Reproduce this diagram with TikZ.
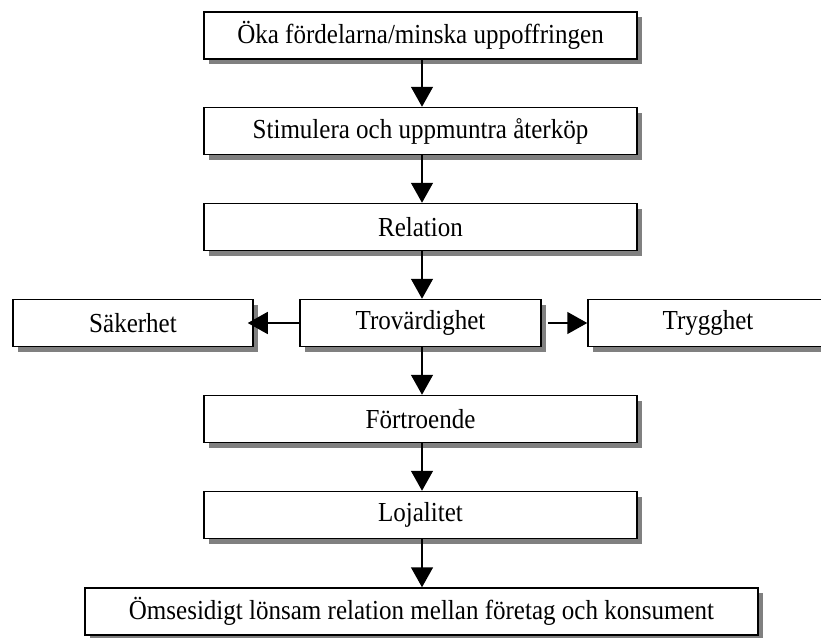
\documentclass[tikz,border=0pt]{standalone}
\usepackage{fontspec}
\setmainfont[FakeStretch=0.91]{Liberation Serif}
\usetikzlibrary{arrows.meta,shadows}

\tikzset{
  box/.style={draw=black, line width=1.5pt, fill=white, inner sep=0pt,
    minimum height=47pt,
    font=\fontsize{27.5}{30}\selectfont,
    drop shadow={shadow xshift=5pt, shadow yshift=-5pt, fill=black!50, opacity=1}},
  mainbox/.style={box, minimum width=433pt},
  sidebox/.style={box, minimum width=240pt},
  flow/.style={line width=1.5pt, -{Triangle[width=22pt,length=20pt]}}
}

\begin{document}
\begin{tikzpicture}[x=1pt,y=-1pt]
  \useasboundingbox (0,0) rectangle (821,637);
  \clip (0,0) rectangle (821,637);

  % main column
  \node[mainbox] (oka)  at (420.5,35.5)  {Öka fördelarna/minska uppoffringen};
  \node[mainbox] (stim) at (420.5,131)   {Stimulera och uppmuntra återköp};
  \node[mainbox] (rel)  at (420.5,227)   {Relation};
  \node[box, minimum width=241pt] (trov) at (420.5,323) {Trovärdighet};
  \node[mainbox] (fort) at (420.5,419)   {Förtroende};
  \node[mainbox] (loj)  at (420.5,515)   {Lojalitet};
  \node[box, minimum width=673pt] (oms) at (421.5,611.5)
    {Ömsesidigt lönsam relation mellan företag och konsument};

  % side boxes
  \node[sidebox] (sak)  at (133,323) {Säkerhet};
  \node[sidebox] (tryg) at (708,323) {Trygghet};

  % connectors
  \draw[flow] (oka.south -| 422,0)  -- (stim.north -| 422,0);
  \draw[flow] (stim.south -| 422,0) -- (rel.north -| 422,0);
  \draw[flow] (rel.south -| 422,0)  -- (trov.north -| 422,0);
  \draw[flow] (trov.south -| 422,0) -- (fort.north -| 422,0);
  \draw[flow] (fort.south -| 422,0) -- (loj.north -| 422,0);
  \draw[flow] (loj.south -| 422,0)  -- (oms.north -| 422,0);
  \draw[flow, shorten >=-6pt] (trov.west) -- (sak.east);
  \draw[flow, shorten <=6pt] (trov.east) -- (tryg.west);
\end{tikzpicture}
\end{document}
